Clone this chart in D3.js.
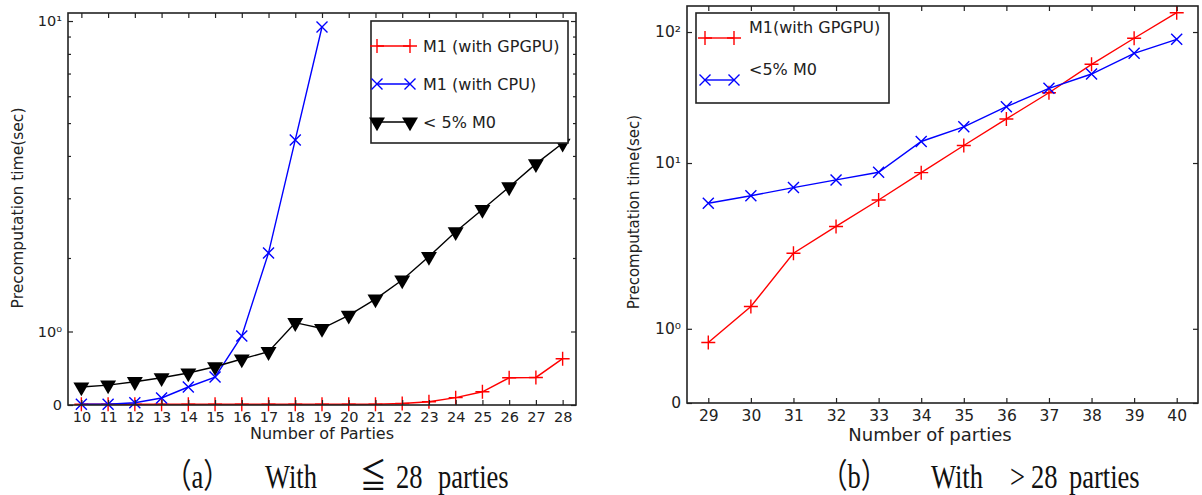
<!DOCTYPE html>
<html>
<head>
<meta charset="utf-8">
<style>
  body { margin: 0; background: #fff; }
  svg { display: block; }
  svg text { font-family: "DejaVu Sans", sans-serif; }
  .tick text { fill: #222; }
  svg text.caption { font-family: "Liberation Serif", "Noto Sans CJK TC", serif; fill: #111; }
</style>
<title>Precomputation time</title>
</head>
<body>
<svg id="chart" width="1202" height="495"></svg>
<script src="https://cdn.jsdelivr.net/npm/d3@7"></script>
<script>

// ---- data ----
var partiesA = [10,11,12,13,14,15,16,17,18,19,20,21,22,23,24,25,26,27,28];
var gpgpuA   = [0.01,0.01,0.01,0.01,0.01,0.01,0.01,0.01,0.01,0.01,0.01,0.01,0.02,0.045,0.1,0.18,0.37,0.375,0.63];
var cpuA     = [0.01,0.01,0.03,0.095,0.245,0.38,0.94,2.07,4.46,9.6];
var m0A      = [0.245,0.27,0.317,0.37,0.435,0.52,0.626,0.725,1.12,1.04,1.22,1.44,1.70,2.02,2.39,2.78,3.24,3.79,4.36];

var partiesB = [29,30,31,32,33,34,35,36,37,38,39,40];
var gpgpuB   = [0.815,1.30,2.05,3.28,5.22,8.44,13.6,21.7,34.4,56.7,89.6,140.5];
var m0B      = [4.93,5.63,6.49,7.43,8.5,14.6,18.9,26.9,37.2,47.8,68.8,88];

var yTicksA = [0, 1, 10], yLabelsA = ["0", "10\u2070", "10\u00b9"];
var yTicksB = [0, 1, 10, 100], yLabelsB = ["0", "10\u2070", "10\u00b9", "10\u00b2"];
var minorA  = [2,3,4,5,6,7,8,9];

var svg = d3.select("#chart");

// symlog-like transform: linear below 2, log10 above
function symT(v, lw) {
	return v <= 2 ? v / 2 * lw : lw + Math.log10(v / 2);
}

var plusPath  = "M-7,0H7M0,-7V7";
var crossPath = "M-5.5,-5.5L5.5,5.5M-5.5,5.5L5.5,-5.5";
var triPath   = d3.symbol(d3.symbolTriangle, 110)();

function marker(g, px, py, s) {
	var m = g.append("g").attr("transform", "translate(" + px + "," + py + ")");
	if (s.kind == "tri") {
		m.append("path").attr("d", triPath).attr("fill", s.color).attr("transform", "rotate(180)");
	} else {
		m.append("path").attr("d", s.kind == "plus" ? plusPath : crossPath)
			.attr("fill", "none").attr("stroke", s.color).attr("stroke-width", 1.4);
	}
}

function drawPanel(cfg) {
	var x = d3.scaleLinear().domain(cfg.xDomain).range([cfg.left, cfg.right]);
	var y = d3.scaleLinear().domain([0, symT(cfg.yMax, cfg.lw)]).range([cfg.bottom, cfg.top]);
	var yv = v => y(symT(v, cfg.lw));

	var g = svg.append("g");

	// series
	cfg.series.forEach(function(s) {
		var pts = s.values.map((v, i) => [cfg.xs[i], v]);
		g.append("path")
			.attr("d", d3.line().x(d => x(d[0])).y(d => yv(d[1]))(pts))
			.attr("fill", "none")
			.attr("stroke", s.color)
			.attr("stroke-width", 1.4);
		pts.forEach(d => marker(g, x(d[0]), yv(d[1]), s));
	});

	// axes, ticks pointing inward
	var yt = cfg.yTicks.map(v => symT(v, cfg.lw));
	g.append("g").attr("transform", "translate(" + cfg.left + ",0)")
		.call(d3.axisLeft(y).tickValues(yt).tickSize(-5).tickPadding(6)
			.tickFormat((d, i) => cfg.yLabels[i]));
	g.append("g").attr("transform", "translate(" + cfg.right + ",0)")
		.call(d3.axisRight(y).tickValues(yt).tickSize(-5).tickFormat(""));

	if (cfg.minor) {
		var mt = cfg.minor.map(v => symT(v, cfg.lw));
		g.append("g").attr("transform", "translate(" + cfg.left + ",0)")
			.call(d3.axisLeft(y).tickValues(mt).tickSize(-3).tickFormat(""));
		g.append("g").attr("transform", "translate(" + cfg.right + ",0)")
			.call(d3.axisRight(y).tickValues(mt).tickSize(-3).tickFormat(""));
	}

	g.append("g").attr("transform", "translate(0," + cfg.bottom + ")")
		.call(d3.axisBottom(x).tickValues(cfg.xs).tickSize(-5).tickPadding(7).tickFormat(d3.format("d")));
	g.append("g").attr("transform", "translate(0," + cfg.top + ")")
		.call(d3.axisTop(x).tickValues(cfg.xs).tickSize(-5).tickFormat(""));

	g.selectAll(".domain").remove();
	g.selectAll(".tick line").attr("stroke", "#222").attr("stroke-width", 1.2);
	g.selectAll(".tick text")
		.style("font-family", "'DejaVu Sans', sans-serif")
		.style("font-size", cfg.tickFont + "px");

	g.append("rect")
		.attr("x", cfg.left).attr("y", cfg.top)
		.attr("width", cfg.right - cfg.left).attr("height", cfg.bottom - cfg.top)
		.attr("fill", "none").attr("stroke", "#222").attr("stroke-width", 1.6);

	// axis labels
	g.append("text")
		.text(cfg.xLabel)
		.attr("x", cfg.xLabelPos[0]).attr("y", cfg.xLabelPos[1])
		.attr("text-anchor", "middle").attr("fill", "#222")
		.style("font-size", cfg.xLabelFont + "px");
	g.append("text")
		.text("Precomputation time(sec)")
		.attr("transform", "translate(" + cfg.yLabelPos[0] + "," + cfg.yLabelPos[1] + ") rotate(-90)")
		.attr("text-anchor", "middle").attr("fill", "#222")
		.style("font-size", cfg.yLabelFont + "px");

	// legend
	var L = cfg.legend;
	g.append("rect")
		.attr("x", L.x).attr("y", L.y).attr("width", L.w).attr("height", L.h)
		.attr("fill", "#fff").attr("stroke", "#222").attr("stroke-width", 1.6);
	cfg.series.forEach(function(s, i) {
		var ly = L.y + L.first + i * L.step;
		g.append("line")
			.attr("x1", L.x1).attr("x2", L.x2).attr("y1", ly).attr("y2", ly)
			.attr("stroke", s.color).attr("stroke-width", 1.4);
		marker(g, L.x1, ly, s);
		marker(g, L.x2, ly, s);
		g.append("text")
			.text(s.name)
			.attr("x", L.tx).attr("y", ly + L.textDy)
			.attr("dy", "0.35em").attr("fill", "#222")
			.style("font-size", L.font + "px");
	});

	// caption, placed word by word
	cfg.caption.forEach(function(c) {
		g.append("text")
			.attr("class", "caption")
			.text(c[0])
			.attr("transform", "translate(" + c[1] + ",488) scale(0.78,1)")
			.style("font-size", "34px");
	});
}

drawPanel({
	xs: partiesA, xDomain: [9.5, 28.5],
	left: 68, right: 576, top: 13, bottom: 405,
	lw: 0.4336, yMax: 10.56,
	yTicks: yTicksA, yLabels: yLabelsA, minor: minorA,
	tickFont: 14.5,
	series: [
		{name: "M1 (with GPGPU)", values: gpgpuA, color: "#ff0000", kind: "plus"},
		{name: "M1 (with CPU)",   values: cpuA,   color: "#0000ff", kind: "cross"},
		{name: "< 5% M0",         values: m0A,    color: "#000000", kind: "tri"}
	],
	xLabel: "Number of Parties", xLabelPos: [322, 439], xLabelFont: 16,
	yLabelPos: [23, 208], yLabelFont: 15.5,
	legend: {x: 371, y: 21, w: 197, h: 122, first: 25, step: 38, x1: 377, x2: 410, tx: 423, textDy: 0, font: 16},
	caption: [["\uff08a\uff09", 165], ["With", 265], ["\u2266", 360], ["28", 396], ["parties", 438]]
});

drawPanel({
	xs: partiesB, xDomain: [28.5, 40.5],
	left: 687, right: 1198, top: 6, bottom: 403,
	lw: 1.133, yMax: 158,
	yTicks: yTicksB, yLabels: yLabelsB, minor: null,
	tickFont: 15.5,
	series: [
		{name: "M1(with GPGPU)", values: gpgpuB, color: "#ff0000", kind: "plus"},
		{name: "<5% M0",         values: m0B,    color: "#0000ff", kind: "cross"}
	],
	xLabel: "Number of parties", xLabelPos: [930, 441], xLabelFont: 18,
	yLabelPos: [639, 212], yLabelFont: 15,
	legend: {x: 696, y: 13, w: 193, h: 90, first: 25, step: 42, x1: 705, x2: 734, tx: 749, textDy: -11, font: 16},
	caption: [["\uff08b\uff09", 821], ["With", 931], [">", 1010], ["28", 1031], ["parties", 1069]]
});

</script>
</body>
</html>
